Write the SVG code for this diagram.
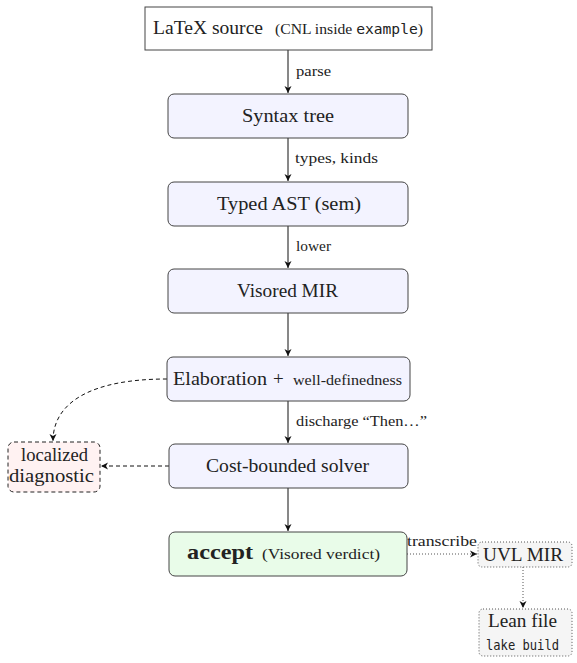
<svg xmlns="http://www.w3.org/2000/svg" width="577" height="663" viewBox="0 0 577 663">
<style>
  .box{fill:#f3f3ff;stroke:#444;stroke-width:1}
  .t{font-family:'Liberation Serif','DejaVu Serif','Noto Serif','Times New Roman',serif;fill:#222}
  .big{font-size:19px}
  .sm{font-size:15px}
  .mono{font-family:'DejaVu Sans Mono','Liberation Mono',monospace}
  .e{fill:none;stroke:#111;stroke-width:1}
  .dash{stroke-dasharray:4,3}
  .dot{stroke-dasharray:1,2;stroke:#555}
</style>
<defs>
  <marker id="ah" viewBox="-8 -4 9 8" refX="0" refY="0" markerWidth="9" markerHeight="8" markerUnits="userSpaceOnUse" orient="auto">
    <path d="M0,0 L-7,-3.5 L-5,0 L-7,3.5 z" fill="#111"/>
  </marker>
</defs>
<rect width="577" height="663" fill="#fff"/>

<g id="connectors">
  <line class="e" x1="288" y1="50" x2="288" y2="93" marker-end="url(#ah)"/>
  <text class="t sm" x="296" y="76" textLength="35" lengthAdjust="spacingAndGlyphs">parse</text>
  <line class="e" x1="288" y1="138" x2="288" y2="181" marker-end="url(#ah)"/>
  <text class="t sm" x="295" y="163" textLength="83" lengthAdjust="spacingAndGlyphs">types, kinds</text>
  <line class="e" x1="288" y1="226" x2="288" y2="268" marker-end="url(#ah)"/>
  <text class="t sm" x="296" y="251" textLength="35" lengthAdjust="spacingAndGlyphs">lower</text>
  <line class="e" x1="288" y1="313" x2="288" y2="356" marker-end="url(#ah)"/>
  <line class="e" x1="288" y1="401" x2="288" y2="443" marker-end="url(#ah)"/>
  <text class="t sm" x="296" y="426" textLength="131" lengthAdjust="spacingAndGlyphs">discharge “Then…”</text>
  <line class="e" x1="288" y1="488" x2="288" y2="531" marker-end="url(#ah)"/>
  <path class="e dash" d="M167,379 C92,379 53,402 53,441" marker-end="url(#ah)"/>
  <line class="e dash" x1="169" y1="466" x2="101" y2="466" marker-end="url(#ah)"/>
  <line class="e dot" x1="407" y1="554" x2="477" y2="554" marker-end="url(#ah)"/>
  <text class="t sm" x="407" y="546" textLength="70" lengthAdjust="spacingAndGlyphs">transcribe</text>
  <line class="e dot" x1="523" y1="567" x2="523" y2="608" marker-end="url(#ah)"/>
</g>

<g id="latex">
  <rect x="145" y="7" width="287" height="43" fill="#fff" stroke="#444"/>
  <text class="t big" x="153" y="34" textLength="110" lengthAdjust="spacingAndGlyphs">LaTeX source</text>
  <text class="t sm" x="275" y="34" textLength="148" lengthAdjust="spacingAndGlyphs"><tspan>(CNL inside </tspan><tspan class="mono" font-size="14">example</tspan><tspan>)</tspan></text>
</g>
<g id="syntax">
  <rect class="box" x="168" y="94" width="240" height="44" rx="6"/>
  <text class="t big" x="242" y="122" textLength="92" lengthAdjust="spacingAndGlyphs">Syntax tree</text>
</g>
<g id="typed">
  <rect class="box" x="168" y="182" width="240" height="44" rx="6"/>
  <text class="t big" x="217" y="210" textLength="144" lengthAdjust="spacingAndGlyphs">Typed AST (sem)</text>
</g>
<g id="mir">
  <rect class="box" x="168" y="269" width="240" height="44" rx="6"/>
  <text class="t big" x="237" y="297" textLength="101" lengthAdjust="spacingAndGlyphs">Visored MIR</text>
</g>
<g id="elab">
  <rect class="box" x="167" y="357" width="243" height="44" rx="6"/>
  <text class="t big" x="173" y="385" textLength="94" lengthAdjust="spacingAndGlyphs">Elaboration</text>
  <text class="t big" x="273" y="385">+</text>
  <text class="t sm" x="293" y="385" textLength="109" lengthAdjust="spacingAndGlyphs">well-definedness</text>
</g>
<g id="solver">
  <rect class="box" x="169" y="444" width="239" height="44" rx="6"/>
  <text class="t big" x="206" y="472" textLength="163" lengthAdjust="spacingAndGlyphs">Cost-bounded solver</text>
</g>
<g id="accept">
  <rect x="169" y="532" width="238" height="44" rx="6" fill="#e9fce9" stroke="#444"/>
  <text class="t" font-size="21" x="187" y="559" font-weight="bold" textLength="66" lengthAdjust="spacingAndGlyphs">accept</text>
  <text class="t sm" x="262" y="559" textLength="118" lengthAdjust="spacingAndGlyphs">(Visored verdict)</text>
</g>
<g id="diag">
  <rect x="8" y="442" width="92" height="50" rx="6" fill="#fff2f2" stroke="#222" stroke-dasharray="4,3"/>
  <text class="t big" x="21" y="461" textLength="67" lengthAdjust="spacingAndGlyphs">localized</text>
  <text class="t big" x="9" y="482" textLength="85" lengthAdjust="spacingAndGlyphs">diagnostic</text>
</g>
<g id="uvl">
  <rect x="478" y="542" width="94" height="25" rx="4" fill="#f5f5f5" stroke="#555" stroke-dasharray="1,2"/>
  <text class="t big" x="483" y="561" textLength="80" lengthAdjust="spacingAndGlyphs">UVL MIR</text>
</g>
<g id="lean">
  <rect x="479" y="609" width="93" height="47" rx="4" fill="#f5f5f5" stroke="#555" stroke-dasharray="1,2"/>
  <text class="t big" x="488" y="627" textLength="69" lengthAdjust="spacingAndGlyphs">Lean file</text>
  <text class="t mono" font-size="14" x="486" y="650" textLength="73" lengthAdjust="spacingAndGlyphs">lake build</text>
</g>
</svg>
